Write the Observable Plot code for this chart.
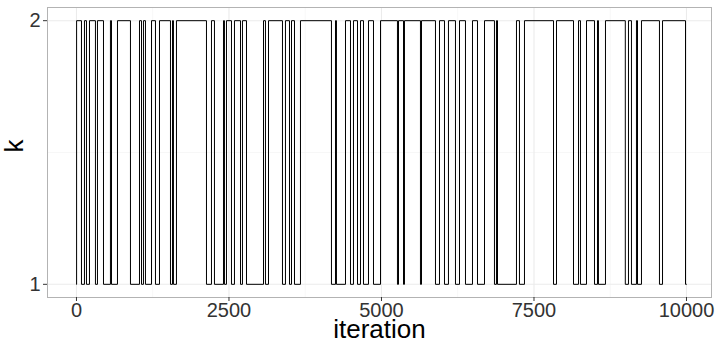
<!DOCTYPE html>
<html><head><meta charset="utf-8">
<script src="https://cdn.jsdelivr.net/npm/d3@7"></script>
<script src="https://cdn.jsdelivr.net/npm/@observablehq/plot@0.6"></script>
<style>body{margin:0;background:#fff;font-family:"Liberation Sans",Arial,sans-serif}</style>
</head><body><div id="chart"></div>
<script>
const switchIter = [0,2,82,131,164,213,311,344,443,557,574,672,885,1033,1066,1098,1131,1230,1295,1361,1541,1574,1590,1639,2131,2213,2262,2410,2426,2459,2541,2590,2689,2721,2787,3066,3098,3148,3377,3426,3492,3525,3574,3672,4180,4246,4262,4410,4492,4541,4607,4656,4705,4787,4869,4984,5262,5279,5361,5377,5639,5656,5885,5951,6033,6098,6213,6279,6377,6492,6574,6689,6852,6885,6902,7213,7262,7344,7820,7869,8148,8230,8262,8361,8492,8541,8557,8672,8997,9049,9098,9180,9197,9262,9557,9607,9984,10000];
const kValue = [1,2,1,2,1,2,1,2,1,2,1,2,1,2,1,2,1,2,1,2,1,2,1,2,1,2,1,2,1,2,1,2,1,2,1,2,1,2,1,2,1,2,1,2,1,2,1,2,1,2,1,2,1,2,1,2,1,2,1,2,1,2,1,2,1,2,1,2,1,2,1,2,1,2,1,2,1,2,1,2,1,2,1,2,1,2,1,2,1,2,1,2,1,2,1,2,1,1];
const xTicks = [0,2500,5000,7500,10000];
const xMinor = [1250,3750,6250,8750];
const yTicks = [1,2];
const yMinor = [1.5];

const data = switchIter.map((it,i)=>({iteration: it, k: kValue[i]}));

const chart = Plot.plot({
  width: 717, height: 339,
  marginTop: 7, marginBottom: 42, marginLeft: 47, marginRight: 6,
  style: {fontFamily: "Liberation Sans, Arial, sans-serif", background: "#fff"},
  x: {domain: [-475, 10410], label: null},
  y: {domain: [0.95, 2.05], label: null},
  marks: [
    Plot.ruleX(xMinor, {stroke: "#f2f2f2", strokeWidth: 0.6}),
    Plot.ruleY(yMinor, {stroke: "#f2f2f2", strokeWidth: 0.6}),
    Plot.ruleX(xTicks, {stroke: "#ebebeb", strokeWidth: 1.1}),
    Plot.ruleY(yTicks, {stroke: "#ebebeb", strokeWidth: 1.1}),
    Plot.line(data, {x: "iteration", y: "k", curve: "step-after", stroke: "black", strokeWidth: 1}),
    Plot.frame({stroke: "#b3b3b3"}),
    Plot.axisX({ticks: xTicks, tickFormat: d=>String(d), tickSize: 4, tickPadding: 1, fontSize: 20, color: "#333", stroke: "#333", label: null}),
    Plot.axisY({ticks: yTicks, tickFormat: d=>String(d), tickSize: 4, tickPadding: 3, fontSize: 20, color: "#333", label: null}),
    Plot.text(["iteration"], {frameAnchor: "bottom", dy: 40, lineAnchor: "bottom", fontSize: 26, fill: "black"}),
    Plot.text(["k"], {frameAnchor: "left", dx: -33, rotate: -90, fontSize: 26, fill: "black"})
  ]
});
document.getElementById("chart").appendChild(chart);
</script></body></html>
